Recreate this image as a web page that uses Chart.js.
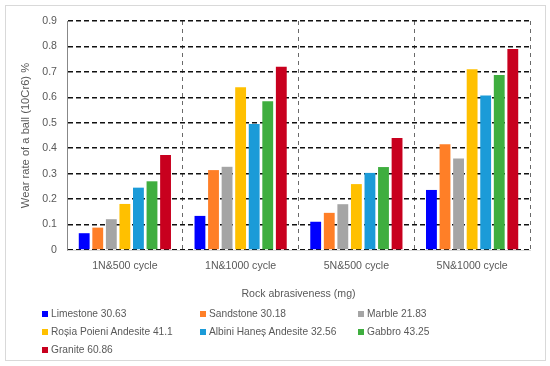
<!DOCTYPE html>
<html>
<head>
<meta charset="utf-8">
<script src="https://cdn.jsdelivr.net/npm/chart.js@4"></script>
<style>
  html, body { margin: 0; padding: 0; background: #fff; }
  #wrap { position: relative; width: 550px; height: 366px; }
  #frame { position: absolute; left: 5px; top: 5px; width: 539px; height: 354px; border: 1px solid #d9d9d9; }
  canvas { position: absolute; left: 0; top: 0; }
  #legend { position: absolute; left: 0; top: 307px; width: 550px; font-family: "Liberation Sans", Arial, sans-serif; font-size: 10.2px; color: #595959; }
  .item { position: absolute; white-space: nowrap; line-height: 14px; }
  .box { display: inline-block; width: 6px; height: 6px; margin-right: 3px; vertical-align: 0px; }
</style>
</head>
<body>
<div id="wrap">
  <div id="frame"></div>
  <canvas id="chart" width="550" height="366"></canvas>
  <div id="legend"></div>
</div>
<script>
// categorias del eje x
const categories = ['1N&500 cycle', '1N&1000 cycle', '5N&500 cycle', '5N&1000 cycle'];

// series (roca + abrasividad)
const seriesNames = [
    'Limestone 30.63',
    'Sandstone 30.18',
    'Marble 21.83',
    'Roșia Poieni Andesite 41.1',
    'Albini Haneș Andesite 32.56',
    'Gabbro 43.25',
    'Granite 60.86'
];
const seriesColors = ['#0000ff', '#ff7f27', '#a5a5a5', '#ffc000', '#1b9bd8', '#3fae3f', '#c8001e'];

const limestone = [0.066, 0.134, 0.111, 0.236];
const sandstone = [0.088, 0.314, 0.146, 0.416];
const marble    = [0.121, 0.327, 0.180, 0.360];
const rosia     = [0.181, 0.640, 0.259, 0.710];
const albini    = [0.245, 0.495, 0.303, 0.607];
const gabbro    = [0.270, 0.585, 0.326, 0.688];
const granite   = [0.373, 0.720, 0.440, 0.790];
const seriesValues = [limestone, sandstone, marble, rosia, albini, gabbro, granite];

const yTicks = [0, 0.1, 0.2, 0.3, 0.4, 0.5, 0.6, 0.7, 0.8, 0.9];

const fam = '"Liberation Sans", Arial, sans-serif';
const font = { family: fam, size: 10.6 };

const ctx = document.getElementById('chart').getContext('2d');
new Chart(ctx, {
    type: 'bar',
    data: {
        labels: categories,
        datasets: seriesNames.map((name, i) => ({
            label: name,
            data: seriesValues[i],
            backgroundColor: seriesColors[i],
            borderWidth: 0,
            barPercentage: 0.8,
            categoryPercentage: 0.82
        }))
    },
    options: {
        responsive: false,
        animation: false,
        layout: { padding: { left: 0, top: 21, right: 20, bottom: 66 } },
        plugins: { legend: { display: false }, tooltip: { enabled: false } },
        scales: {
            x: {
                grid: { color: '#6a6a6a', lineWidth: 1, drawTicks: false },
                border: { display: true, color: '#d9d9d9', width: 1, dash: [4, 4] },
                ticks: { color: '#595959', font: font, padding: 10 },
                title: { display: true, text: 'Rock abrasiveness (mg)', color: '#595959', font: font, padding: { top: 2, bottom: 0 } },
                afterFit: s => { s.height = 50; }
            },
            y: {
                min: 0, max: 0.9,
                afterBuildTicks: s => { s.ticks = yTicks.map(v => ({ value: v })); },
                grid: { color: '#111', lineWidth: 1.6, drawTicks: false },
                border: { display: true, color: '#888', width: 1, dash: [5, 3] },
                ticks: { color: '#595959', font: font, padding: 10, callback: v => String(Math.round(v * 10) / 10) },
                title: { display: true, text: 'Wear rate of a ball (10Cr6) %', color: '#595959', font: { family: fam, size: 11.2 }, padding: { top: 19, bottom: 0 } },
                afterFit: s => { s.width = 67; }
            }
        }
    }
});

// leyenda en 3 columnas
const legend = document.getElementById('legend');
const colX = [42, 200, 358];
seriesNames.forEach((name, i) => {
    const el = document.createElement('div');
    el.className = 'item';
    el.style.left = colX[i % 3] + 'px';
    el.style.top = (Math.floor(i / 3) * 17.8) + 'px';
    el.innerHTML = '<span class="box" style="background:' + seriesColors[i] + '"></span>' + name;
    legend.appendChild(el);
});
</script>
</body>
</html>
